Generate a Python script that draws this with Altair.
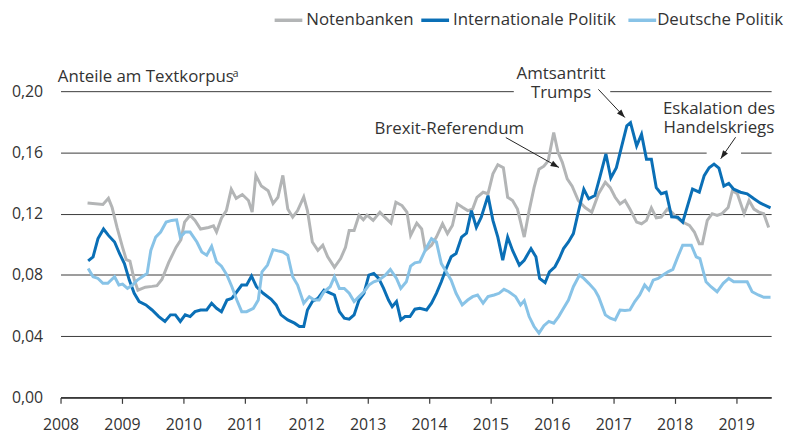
import altair as alt
import pandas as pd

FONT = "Open Sans"
TEXT_COLOR = "#333333"
GRID_COLOR = "#3a3a3a"

series_names = ["Notenbanken", "Internationale Politik", "Deutsche Politik"]
series_colors = ["#b3b5b6", "#0a6fb6", "#88c3e7"]

year_ticks = list(range(2008, 2020))
y_ticks = [0.0, 0.04, 0.08, 0.12, 0.16, 0.20]

# Notenbanken (grey)
nb_year = [2008.44, 2008.69, 2008.78, 2008.84, 2008.92, 2009.01, 2009.07, 2009.13, 2009.20, 2009.26,
           2009.38, 2009.49, 2009.57, 2009.65, 2009.76, 2009.88, 2009.96, 2010.02, 2010.11, 2010.19,
           2010.28, 2010.41, 2010.49, 2010.54, 2010.62, 2010.70, 2010.78, 2010.86, 2010.96, 2011.06,
           2011.12, 2011.18, 2011.27, 2011.38, 2011.46, 2011.54, 2011.62, 2011.70, 2011.78, 2011.86,
           2011.96, 2012.02, 2012.10, 2012.19, 2012.27, 2012.35, 2012.46, 2012.56, 2012.64, 2012.70,
           2012.78, 2012.86, 2012.93, 2012.99, 2013.09, 2013.20, 2013.28, 2013.38, 2013.46, 2013.56,
           2013.64, 2013.70, 2013.80, 2013.88, 2013.94, 2014.04, 2014.12, 2014.22, 2014.30, 2014.38,
           2014.46, 2014.55, 2014.63, 2014.71, 2014.78, 2014.88, 2014.96, 2015.04, 2015.12, 2015.21,
           2015.28, 2015.36, 2015.44, 2015.55, 2015.63, 2015.71, 2015.79, 2015.87, 2015.94, 2016.03,
           2016.10, 2016.17, 2016.25, 2016.33, 2016.43, 2016.54, 2016.65, 2016.76, 2016.87, 2016.95,
           2017.03, 2017.11, 2017.19, 2017.27, 2017.38, 2017.46, 2017.54, 2017.62, 2017.70, 2017.78,
           2017.88, 2017.95, 2018.05, 2018.13, 2018.24, 2018.32, 2018.40, 2018.45, 2018.53, 2018.61,
           2018.69, 2018.77, 2018.87, 2018.94, 2019.02, 2019.13, 2019.21, 2019.29, 2019.37, 2019.45,
           2019.53]
nb_val = [0.127, 0.126, 0.130, 0.124, 0.111, 0.098, 0.090, 0.089, 0.077, 0.070,
          0.072, 0.0725, 0.073, 0.077, 0.088, 0.098, 0.103, 0.1145, 0.119, 0.1156,
          0.110, 0.111, 0.112, 0.108, 0.117, 0.122, 0.136, 0.130, 0.1325, 0.1286,
          0.121, 0.145, 0.138, 0.135, 0.1266, 0.1307, 0.145, 0.123, 0.1177, 0.122,
          0.131, 0.122, 0.1015, 0.096, 0.0994, 0.0918, 0.085, 0.0907, 0.098, 0.109,
          0.109, 0.119, 0.116, 0.119, 0.1156, 0.121, 0.1177, 0.1138, 0.1275, 0.1253,
          0.121, 0.1058, 0.1138, 0.110, 0.096, 0.0994, 0.1047, 0.1134, 0.107, 0.1123,
          0.1264, 0.124, 0.122, 0.123, 0.1307, 0.134, 0.133, 0.146, 0.152, 0.150,
          0.1307, 0.1286, 0.123, 0.1047, 0.122, 0.137, 0.149, 0.151, 0.1545, 0.173,
          0.160, 0.1535, 0.1427, 0.138, 0.1286, 0.124, 0.121, 0.133, 0.1405, 0.137,
          0.1307, 0.1264, 0.1286, 0.123, 0.1145, 0.1134, 0.1156, 0.1238, 0.1173, 0.1177,
          0.123, 0.121, 0.1167, 0.1145, 0.1123, 0.108, 0.1004, 0.1004, 0.1156, 0.120,
          0.1188, 0.120, 0.124, 0.135, 0.133, 0.120, 0.1286, 0.123, 0.121, 0.120,
          0.111]

# Internationale Politik (dark blue)
ip_year = [2008.45, 2008.53, 2008.61, 2008.70, 2008.78, 2008.88, 2008.96, 2009.04, 2009.12, 2009.20,
           2009.28, 2009.39, 2009.49, 2009.60, 2009.70, 2009.79, 2009.87, 2009.95, 2010.03, 2010.11,
           2010.19, 2010.28, 2010.38, 2010.46, 2010.54, 2010.62, 2010.71, 2010.79, 2010.87, 2010.95,
           2011.03, 2011.11, 2011.19, 2011.30, 2011.43, 2011.51, 2011.59, 2011.70, 2011.81, 2011.89,
           2011.96, 2012.02, 2012.10, 2012.19, 2012.29, 2012.40, 2012.46, 2012.54, 2012.62, 2012.70,
           2012.78, 2012.86, 2012.94, 2013.02, 2013.10, 2013.18, 2013.26, 2013.34, 2013.40, 2013.47,
           2013.54, 2013.61, 2013.69, 2013.77, 2013.85, 2013.96, 2014.04, 2014.12, 2014.20, 2014.28,
           2014.36, 2014.44, 2014.53, 2014.61, 2014.69, 2014.77, 2014.85, 2014.96, 2015.04, 2015.12,
           2015.20, 2015.28, 2015.36, 2015.47, 2015.55, 2015.66, 2015.74, 2015.80, 2015.89, 2015.96,
           2016.05, 2016.12, 2016.19, 2016.27, 2016.35, 2016.43, 2016.52, 2016.60, 2016.70, 2016.78,
           2016.88, 2016.96, 2017.05, 2017.13, 2017.22, 2017.28, 2017.38, 2017.46, 2017.54, 2017.62,
           2017.70, 2017.78, 2017.86, 2017.95, 2018.05, 2018.13, 2018.21, 2018.29, 2018.40, 2018.48,
           2018.56, 2018.64, 2018.72, 2018.80, 2018.88, 2018.96, 2019.07, 2019.18, 2019.29, 2019.39,
           2019.56]
ip_val = [0.0892, 0.0918, 0.1037, 0.110, 0.1058, 0.1015, 0.094, 0.0874, 0.0766, 0.068,
          0.0626, 0.0604, 0.0571, 0.0528, 0.0496, 0.0539, 0.0539, 0.0496, 0.0539, 0.0528,
          0.056, 0.0571, 0.0571, 0.0615, 0.0582, 0.056, 0.0636, 0.0647, 0.069, 0.0734,
          0.0734, 0.0792, 0.0723, 0.068, 0.0641, 0.0604, 0.0539, 0.0506, 0.0485, 0.0463,
          0.0463, 0.0571, 0.0626, 0.0647, 0.0701, 0.068, 0.0669, 0.056, 0.0517, 0.0511,
          0.0539, 0.0636, 0.068, 0.0799, 0.081, 0.0777, 0.0712, 0.0636, 0.0593, 0.0626,
          0.0506, 0.0528, 0.0528, 0.0576, 0.0582, 0.0571, 0.0615, 0.068, 0.0755, 0.0842,
          0.0918, 0.094, 0.1047, 0.1073, 0.122, 0.111, 0.1177, 0.1318, 0.1156, 0.1047,
          0.0896, 0.1047, 0.096, 0.0864, 0.0896, 0.0972, 0.0918, 0.0777, 0.0749, 0.082,
          0.0853, 0.0907, 0.0972, 0.1015, 0.107, 0.121, 0.136, 0.1297, 0.1318, 0.1437,
          0.159, 0.1433, 0.150, 0.163, 0.1773, 0.1794, 0.1643, 0.1719, 0.1556, 0.1556,
          0.137, 0.133, 0.134, 0.118, 0.1177, 0.1145, 0.1253, 0.136, 0.134, 0.1448,
          0.150, 0.1524, 0.1498, 0.138, 0.1398, 0.136, 0.134, 0.133, 0.1297, 0.127,
          0.1238]

# Deutsche Politik (light blue)
dp_year = [2008.45, 2008.53, 2008.61, 2008.69, 2008.77, 2008.88, 2008.95, 2009.01, 2009.09, 2009.17,
           2009.25, 2009.33, 2009.41, 2009.47, 2009.55, 2009.63, 2009.72, 2009.81, 2009.89, 2009.95,
           2010.03, 2010.11, 2010.22, 2010.30, 2010.38, 2010.46, 2010.54, 2010.62, 2010.71, 2010.79,
           2010.87, 2010.95, 2011.03, 2011.14, 2011.22, 2011.28, 2011.37, 2011.46, 2011.54, 2011.62,
           2011.70, 2011.78, 2011.86, 2011.96, 2012.05, 2012.13, 2012.21, 2012.29, 2012.39, 2012.46,
           2012.54, 2012.62, 2012.70, 2012.78, 2012.86, 2012.94, 2013.02, 2013.10, 2013.18, 2013.29,
           2013.37, 2013.47, 2013.54, 2013.63, 2013.70, 2013.77, 2013.85, 2013.96, 2014.04, 2014.12,
           2014.20, 2014.28, 2014.36, 2014.44, 2014.54, 2014.63, 2014.71, 2014.79, 2014.88, 2014.96,
           2015.06, 2015.14, 2015.22, 2015.30, 2015.41, 2015.49, 2015.55, 2015.63, 2015.71, 2015.79,
           2015.87, 2015.95, 2016.03, 2016.11, 2016.19, 2016.27, 2016.35, 2016.45, 2016.52, 2016.60,
           2016.70, 2016.76, 2016.87, 2016.95, 2017.03, 2017.11, 2017.19, 2017.27, 2017.35, 2017.43,
           2017.51, 2017.58, 2017.65, 2017.73, 2017.81, 2017.89, 2017.97, 2018.05, 2018.13, 2018.27,
           2018.35, 2018.41, 2018.51, 2018.59, 2018.69, 2018.79, 2018.88, 2018.96, 2019.07, 2019.18,
           2019.26, 2019.36, 2019.45, 2019.56]
dp_val = [0.0842, 0.0788, 0.0777, 0.0745, 0.0745, 0.0788, 0.0734, 0.074, 0.0712, 0.0734,
          0.0766, 0.0788, 0.081, 0.096, 0.1047, 0.108, 0.1145, 0.1156, 0.116, 0.1047,
          0.108, 0.108, 0.1015, 0.095, 0.0929, 0.0987, 0.0885, 0.0857, 0.0799, 0.0723,
          0.0636, 0.056, 0.056, 0.0582, 0.0636, 0.082, 0.0864, 0.0965, 0.0957, 0.095,
          0.0929, 0.0788, 0.0734, 0.0615, 0.0658, 0.0636, 0.0636, 0.069, 0.0723, 0.0788,
          0.0712, 0.0712, 0.068, 0.0626, 0.0658, 0.069, 0.0734, 0.0755, 0.0766, 0.0799,
          0.0836, 0.0777, 0.0712, 0.0755, 0.0857, 0.0879, 0.0885, 0.098, 0.1037, 0.1015,
          0.0874, 0.082, 0.0766, 0.068, 0.0604, 0.0636, 0.0658, 0.0669, 0.0615, 0.0658,
          0.0669, 0.068, 0.0706, 0.069, 0.0658, 0.0604, 0.0632, 0.0528, 0.0463, 0.042,
          0.0468, 0.0496, 0.0485, 0.0528, 0.0582, 0.0636, 0.0723, 0.0799, 0.0777, 0.0745,
          0.0701, 0.0658, 0.0539, 0.0517, 0.0506, 0.0571, 0.0567, 0.0571, 0.0626, 0.0669,
          0.0734, 0.0701, 0.0766, 0.0777, 0.0799, 0.082, 0.0836, 0.0918, 0.0994, 0.0994,
          0.0918, 0.0907, 0.0755, 0.0723, 0.069, 0.0745, 0.0777, 0.0755, 0.0755, 0.0755,
          0.069, 0.0669, 0.0654, 0.0654]

assert len(nb_year) == len(nb_val)
assert len(ip_year) == len(ip_val)
assert len(dp_year) == len(dp_val)

# legend layout (data coordinates): swatch start/end and label start
leg_x = [2011.486, 2013.874, 2017.246]
leg_x2 = [2011.937, 2014.326, 2017.698]
leg_tx = [2012.002, 2014.390, 2017.714]
leg_y = 0.2463

# annotation texts and the anchor of their first line (data coordinates)
ann_text = ["Brexit-Referendum", "Amtsantritt\nTrumps", "Eskalation des\nHandelskriegs"]
ann_year = [2014.33, 2016.15, 2018.72]
ann_val = [0.1755, 0.2111, 0.1883]

# arrows: start -> end (data coordinates), head angle in degrees
arr_year = [2015.25, 2016.757, 2018.991]
arr_val = [0.1697, 0.2012, 0.1699]
arr_year2 = [2016.115, 2017.188, 2018.749]
arr_val2 = [0.1502, 0.1828, 0.1559]
arr_angle = [119, 137, 215]

# white gaps in the grid behind the annotations
gap_year = [2015.38, 2018.52]
gap_year2 = [2016.95, 2019.08]
gap_val = [0.1975, 0.1578]
gap_val2 = [0.2030, 0.1622]

y_title = "Anteile am Textkorpus"

rows = []
for name, yrs, vals in [(series_names[0], nb_year, nb_val),
                        (series_names[1], ip_year, ip_val),
                        (series_names[2], dp_year, dp_val)]:
    for yr, v in zip(yrs, vals):
        rows.append({"year": yr, "value": v, "series": name})
lines_df = pd.DataFrame(rows)

x_scale = alt.Scale(domain=[2008, 2019.57], nice=False, zero=False)
y_scale = alt.Scale(domain=[0, 0.2], nice=False, zero=True)
color_scale = alt.Scale(domain=series_names, range=series_colors)

x_axis = alt.Axis(values=year_ticks, format="d", title=None, grid=False,
                  domain=True, domainColor=GRID_COLOR, domainWidth=1.6,
                  ticks=True, tickSize=6, tickColor=GRID_COLOR, tickWidth=1.2,
                  labelFont=FONT, labelFontSize=16, labelColor=TEXT_COLOR,
                  labelPadding=13, labelFlush=False)
y_axis = alt.Axis(values=y_ticks, title=None, grid=True, gridColor=GRID_COLOR, gridWidth=1,
                  domain=False, ticks=False, labelPadding=18,
                  labelExpr="replace(format(datum.value, '.2f'), '.', ',')",
                  labelFont=FONT, labelFontSize=16, labelColor=TEXT_COLOR)

gap_df = pd.DataFrame({"year": gap_year, "year2": gap_year2, "value": gap_val, "value2": gap_val2})
gaps = alt.Chart(gap_df).mark_rect(color="white").encode(
    x=alt.X("year:Q", scale=x_scale, axis=x_axis),
    x2="year2:Q",
    y=alt.Y("value:Q", scale=y_scale, axis=y_axis),
    y2="value2:Q",
)

lines = alt.Chart(lines_df).mark_line(strokeWidth=3).encode(
    x=alt.X("year:Q", scale=x_scale, axis=x_axis),
    y=alt.Y("value:Q", scale=y_scale, axis=y_axis),
    color=alt.Color("series:N", scale=color_scale, legend=None),
    detail="series:N",
)

# custom legend (top)
leg_df = pd.DataFrame({"series": series_names, "year": leg_x, "year2": leg_x2,
                       "tx": leg_tx, "value": [leg_y] * 3})
leg_sw = alt.Chart(leg_df).mark_rule(strokeWidth=3.5).encode(
    x="year:Q", x2="year2:Q", y="value:Q",
    color=alt.Color("series:N", scale=color_scale, legend=None),
)
leg_tx_mark = alt.Chart(leg_df).mark_text(font=FONT, fontSize=17, color=TEXT_COLOR,
                                          align="left", baseline="middle").encode(
    x="tx:Q", y="value:Q", text="series:N"
)

arr_df = pd.DataFrame({"year": arr_year, "value": arr_val, "year2": arr_year2,
                       "value2": arr_val2, "angle": arr_angle})
arrow_lines = alt.Chart(arr_df).mark_rule(color="#222222", strokeWidth=1).encode(
    x="year:Q", y="value:Q", x2="year2:Q", y2="value2:Q"
)
head_df = pd.DataFrame({"year": arr_year2, "value": arr_val2, "angle": arr_angle})
arrow_heads = alt.Chart(head_df).mark_point(
    shape="M0,0L1,2.8L-1,2.8Z", filled=True, size=36, color="#222222", opacity=1
).encode(
    x="year:Q", y="value:Q", angle=alt.Angle("angle:Q", scale=None)
)

ann_df = pd.DataFrame({"year": ann_year, "value": ann_val, "label": ann_text})
ann = alt.Chart(ann_df).mark_text(font=FONT, fontSize=17, color=TEXT_COLOR,
                                  align="center", baseline="middle",
                                  lineBreak="\n", lineHeight=19).encode(
    x="year:Q", y="value:Q", text="label:N"
)

title_df = pd.DataFrame({"year": [2007.955], "value": [0.2093], "label": [y_title]})
title = alt.Chart(title_df).mark_text(font=FONT, fontSize=17, color=TEXT_COLOR,
                                      align="left", baseline="middle").encode(
    x="year:Q", y="value:Q", text="label:N"
)
sup_df = pd.DataFrame({"year": [2010.80], "value": [0.2110], "label": ["a"]})
sup = alt.Chart(sup_df).mark_text(font=FONT, fontSize=11, color=TEXT_COLOR,
                                  align="left", baseline="middle").encode(
    x="year:Q", y="value:Q", text="label:N"
)

chart = alt.layer(gaps, lines, leg_sw, leg_tx_mark, arrow_lines, arrow_heads,
                  ann, title, sup).properties(
    width=717, height=309,
    autosize=alt.AutoSizeParams(type="none"),
    padding={"left": 53, "top": 82, "right": 16, "bottom": 35},
).configure_view(stroke=None)

chart.save("out.html", embed_options={"renderer": "svg", "actions": False})
